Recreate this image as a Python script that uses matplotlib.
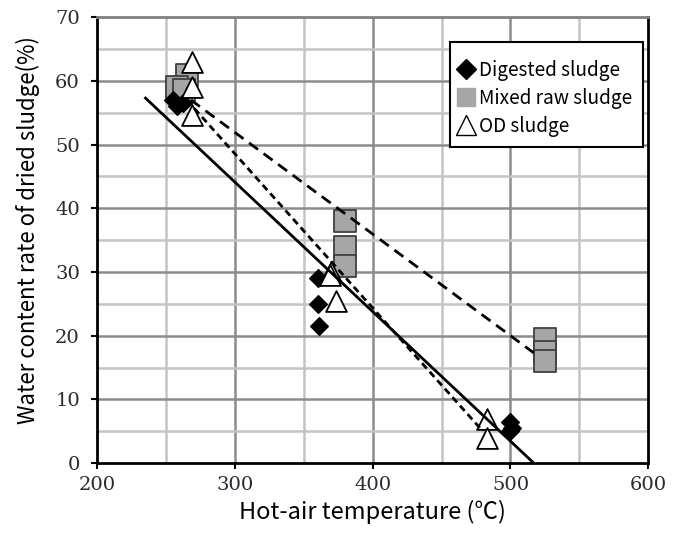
import numpy as np
import matplotlib.pyplot as plt
from matplotlib.lines import Line2D
from matplotlib.patches import Rectangle

# ---------------------------------------------
# data
dig_x = [255, 258, 262, 360, 360, 361, 500, 501, 500]
dig_y = [57.0, 56.0, 56.5, 29.0, 25.0, 21.5, 6.5, 5.5, 5.0]

mix_x = [265, 258, 263, 380, 380, 380, 525, 525, 525]
mix_y = [61.0, 59.0, 58.5, 38.0, 34.0, 31.0, 19.5, 17.5, 16.0]

od_x = [269, 269, 269, 370, 369, 373, 483, 483]
od_y = [63.0, 59.0, 54.7, 30.0, 29.5, 25.5, 7.0, 4.0]

# trend lines (end points)
solid_x, solid_y = [235, 517], [57.3, 0.0]
mix_line_x, mix_line_y = [268, 517], [57.0, 17.3]
od_line_x, od_line_y = [265, 480], [57.0, 5.0]

x_ticks = [200, 300, 400, 500, 600]
y_ticks = [0, 10, 20, 30, 40, 50, 60, 70]
labels = ['Digested sludge', 'Mixed raw sludge', 'OD sludge']

sans = ['Noto Sans CJK JP', 'DejaVu Sans']

# ---------------------------------------------
fig = plt.figure(figsize=(6.78, 5.37), dpi=100)
ax = fig.add_axes([0.1435, 0.1375, 0.8125, 0.8305])

ax.set_xlim(200, 600)
ax.set_ylim(0, 70)

# grid: light at half steps, darker at labelled steps
for v in np.arange(250, 600, 100):
    ax.axvline(v, color='#c4c4c4', lw=1.8, zorder=0)
for v in x_ticks[1:-1]:
    ax.axvline(v, color='#8c8c8c', lw=1.8, zorder=0)
for v in np.arange(5, 70, 10):
    ax.axhline(v, color='#c4c4c4', lw=1.8, zorder=0)
for v in y_ticks[1:-1]:
    ax.axhline(v, color='#8c8c8c', lw=1.8, zorder=0)

ax.scatter(mix_x, mix_y, marker='s', s=16**2, facecolor='#a6a6a6',
           edgecolor='#404040', linewidth=1.3, zorder=3)
ax.scatter(dig_x, dig_y, marker='D', s=9**2, facecolor='black',
           edgecolor='black', zorder=4)
ax.scatter(od_x, od_y, marker='^', s=15**2, facecolor='white',
           edgecolor='black', linewidth=1.3, zorder=5)

ax.plot(solid_x, solid_y, color='black', lw=2, zorder=6)
ax.plot(mix_line_x, mix_line_y, color='black', lw=2, dashes=(4, 2.5), zorder=6)
ax.plot(od_line_x, od_line_y, color='black', lw=2, dashes=(2.5, 1.6), zorder=6)

ax.set_xticks(x_ticks)
ax.set_yticks(y_ticks)
ax.tick_params(direction='out', length=4.5, width=1.5, labelsize=14,
               labelcolor='#2a2a35', labelfontfamily='DejaVu Serif')
ax.tick_params(axis='y', pad=8)
ax.tick_params(axis='x', pad=5)

for side in ['left', 'bottom', 'right']:
    ax.spines[side].set_linewidth(2)
    ax.spines[side].set_color('black')
ax.spines['top'].set_color('#808080')
ax.spines['top'].set_linewidth(2)

ax.set_xlabel('Hot-air temperature (℃)', fontsize=17, family=sans,
              labelpad=4)
ax.set_ylabel('Water content rate of dried sludge(%)', fontsize=16,
              family=sans)
ax.yaxis.set_label_coords(-0.104, 0.523)

# legend: frame drawn as a patch, entries without frame
ax.add_patch(Rectangle((0.640, 0.7085), 0.351, 0.2355, transform=ax.transAxes,
                       facecolor='white', edgecolor='black', lw=1.5,
                       zorder=9))
handles = [
    Line2D([], [], ls='', marker='D', ms=10.5, color='black'),
    Line2D([], [], ls='', marker='s', ms=12.5, color='#a6a6a6'),
    Line2D([], [], ls='', marker='^', ms=15, markerfacecolor='white',
           markeredgecolor='black', markeredgewidth=1),
]
leg = ax.legend(handles, labels, loc='upper left',
                bbox_to_anchor=(0.6525, 0.904), borderaxespad=0,
                borderpad=0, frameon=False, handlelength=1.0,
                handletextpad=0.15, labelspacing=0.37,
                prop={'family': sans, 'size': 13.7})
leg.set_zorder(10)

plt.savefig('out.png', dpi=100)
